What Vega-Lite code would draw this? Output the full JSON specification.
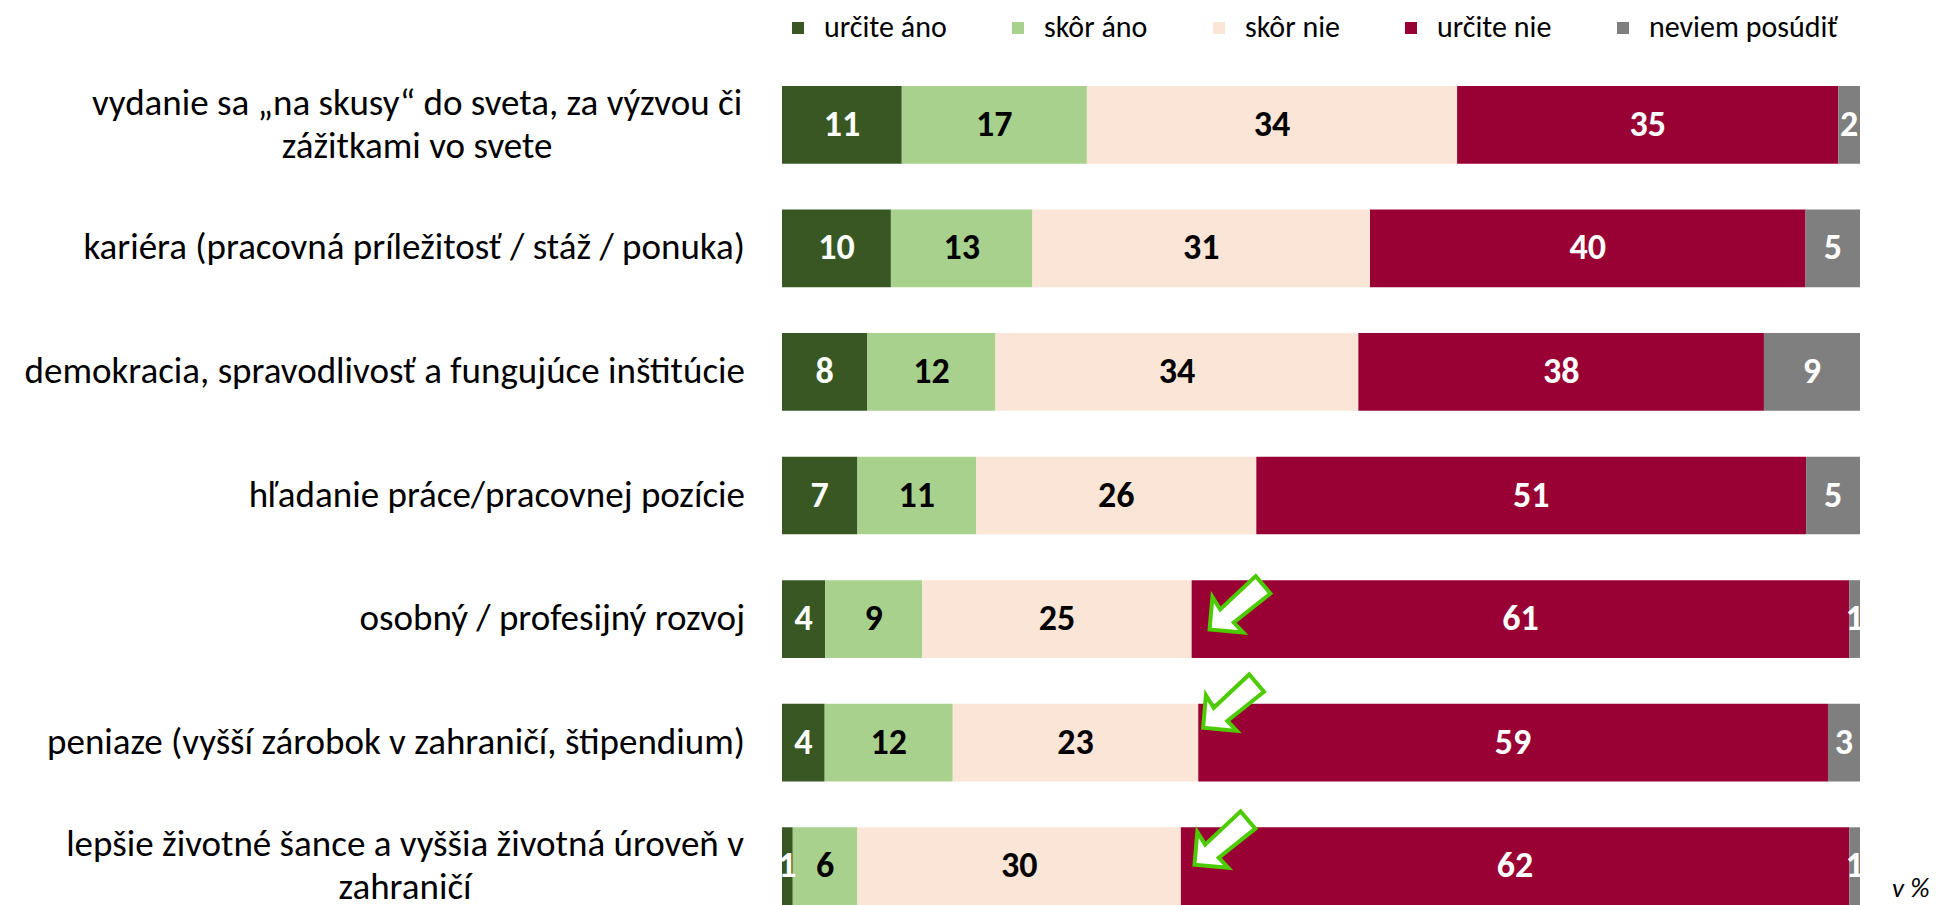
{
  "$schema": "https://vega.github.io/schema/vega-lite/v6.json",
  "width": 1078,
  "height": 819,
  "autosize": {"type": "none"},
  "padding": {"left": 782, "top": 86, "right": 76, "bottom": 0},
  "background": "white",
  "config": {"view": {"stroke": null}, "font": "Carlito, Calibri, Lato, sans-serif"},
  "datasets": {
    "main": [
      {"cat": "vydanie sa „na skusy“ do sveta, za výzvou či\nzážitkami vo svete", "resp": "určite áno", "v": 11},
      {"cat": "vydanie sa „na skusy“ do sveta, za výzvou či\nzážitkami vo svete", "resp": "skôr áno", "v": 17},
      {"cat": "vydanie sa „na skusy“ do sveta, za výzvou či\nzážitkami vo svete", "resp": "skôr nie", "v": 34},
      {"cat": "vydanie sa „na skusy“ do sveta, za výzvou či\nzážitkami vo svete", "resp": "určite nie", "v": 35},
      {"cat": "vydanie sa „na skusy“ do sveta, za výzvou či\nzážitkami vo svete", "resp": "neviem posúdiť", "v": 2},
      {"cat": "kariéra (pracovná príležitosť / stáž / ponuka)", "resp": "určite áno", "v": 10},
      {"cat": "kariéra (pracovná príležitosť / stáž / ponuka)", "resp": "skôr áno", "v": 13},
      {"cat": "kariéra (pracovná príležitosť / stáž / ponuka)", "resp": "skôr nie", "v": 31},
      {"cat": "kariéra (pracovná príležitosť / stáž / ponuka)", "resp": "určite nie", "v": 40},
      {"cat": "kariéra (pracovná príležitosť / stáž / ponuka)", "resp": "neviem posúdiť", "v": 5},
      {"cat": "demokracia, spravodlivosť a fungujúce inštitúcie", "resp": "určite áno", "v": 8},
      {"cat": "demokracia, spravodlivosť a fungujúce inštitúcie", "resp": "skôr áno", "v": 12},
      {"cat": "demokracia, spravodlivosť a fungujúce inštitúcie", "resp": "skôr nie", "v": 34},
      {"cat": "demokracia, spravodlivosť a fungujúce inštitúcie", "resp": "určite nie", "v": 38},
      {"cat": "demokracia, spravodlivosť a fungujúce inštitúcie", "resp": "neviem posúdiť", "v": 9},
      {"cat": "hľadanie práce/pracovnej pozície", "resp": "určite áno", "v": 7},
      {"cat": "hľadanie práce/pracovnej pozície", "resp": "skôr áno", "v": 11},
      {"cat": "hľadanie práce/pracovnej pozície", "resp": "skôr nie", "v": 26},
      {"cat": "hľadanie práce/pracovnej pozície", "resp": "určite nie", "v": 51},
      {"cat": "hľadanie práce/pracovnej pozície", "resp": "neviem posúdiť", "v": 5},
      {"cat": "osobný / profesijný rozvoj", "resp": "určite áno", "v": 4},
      {"cat": "osobný / profesijný rozvoj", "resp": "skôr áno", "v": 9},
      {"cat": "osobný / profesijný rozvoj", "resp": "skôr nie", "v": 25},
      {"cat": "osobný / profesijný rozvoj", "resp": "určite nie", "v": 61},
      {"cat": "osobný / profesijný rozvoj", "resp": "neviem posúdiť", "v": 1},
      {"cat": "peniaze (vyšší zárobok v zahraničí, štipendium)", "resp": "určite áno", "v": 4},
      {"cat": "peniaze (vyšší zárobok v zahraničí, štipendium)", "resp": "skôr áno", "v": 12},
      {"cat": "peniaze (vyšší zárobok v zahraničí, štipendium)", "resp": "skôr nie", "v": 23},
      {"cat": "peniaze (vyšší zárobok v zahraničí, štipendium)", "resp": "určite nie", "v": 59},
      {"cat": "peniaze (vyšší zárobok v zahraničí, štipendium)", "resp": "neviem posúdiť", "v": 3},
      {"cat": "lepšie životné šance a vyššia životná úroveň v\nzahraničí", "resp": "určite áno", "v": 1},
      {"cat": "lepšie životné šance a vyššia životná úroveň v\nzahraničí", "resp": "skôr áno", "v": 6},
      {"cat": "lepšie životné šance a vyššia životná úroveň v\nzahraničí", "resp": "skôr nie", "v": 30},
      {"cat": "lepšie životné šance a vyššia životná úroveň v\nzahraničí", "resp": "určite nie", "v": 62},
      {"cat": "lepšie životné šance a vyššia životná úroveň v\nzahraničí", "resp": "neviem posúdiť", "v": 1}
    ],
    "arrows": [
      {"cat": "osobný / profesijný rozvoj", "x": 0.395},
      {"cat": "peniaze (vyšší zárobok v zahraničí, štipendium)", "x": 0.389},
      {"cat": "lepšie životné šance a vyššia životná úroveň v\nzahraničí", "x": 0.381}
    ]
  },
  "data": {"name": "main"},
  "transform": [
    {"calculate": "indexof(['určite áno','skôr áno','skôr nie','určite nie','neviem posúdiť'], datum.resp)", "as": "o"},
    {"stack": "v", "groupby": ["cat"], "sort": [{"field": "o", "order": "ascending"}], "offset": "normalize", "as": ["s0", "s1"]},
    {"calculate": "(datum.s0 + datum.s1) / 2", "as": "mid"}
  ],
  "encoding": {
    "y": {"field": "cat", "type": "nominal", "sort": null, "axis": null,
          "scale": {"paddingInner": 0.371, "paddingOuter": 0}}
  },
  "layer": [
    {
      "mark": {"type": "bar"},
      "encoding": {
        "x": {"field": "s0", "type": "quantitative", "axis": null, "scale": {"domain": [0, 1], "nice": false, "zero": false}},
        "x2": {"field": "s1"},
        "color": {
          "field": "resp", "type": "nominal",
          "scale": {"domain": ["určite áno", "skôr áno", "skôr nie", "určite nie", "neviem posúdiť"],
                    "range": ["#385723", "#A9D18E", "#FBE5D6", "#990033", "#7F7F7F"]},
          "legend": {
            "title": null, "orient": "none", "direction": "horizontal",
            "legendX": 1, "legendY": -73,
            "symbolType": "square", "symbolSize": 144, "symbolStrokeWidth": 0,
            "labelFontSize": 30, "labelColor": "#000000", "labelOffset": 11,
            "columnPadding": 56, "labelLimit": 400
          }
        }
      }
    },
    {
      "mark": {"type": "text", "fontWeight": "bold", "fontSize": 36, "baseline": "middle", "align": "center"},
      "encoding": {
        "x": {"field": "mid", "type": "quantitative"},
        "text": {"field": "v", "type": "quantitative"},
        "color": {"condition": {"test": "datum.resp == 'skôr áno' || datum.resp == 'skôr nie'", "value": "#000000"}, "value": "#FFFFFF"}
      }
    },
    {
      "transform": [{"filter": "datum.resp == 'určite áno' && indexof(datum.cat, 'vydanie') != 0 && indexof(datum.cat, 'lepšie') != 0"}],
      "mark": {"type": "text", "fontSize": 37, "align": "right", "baseline": "middle", "dx": -37, "color": "#000000"},
      "encoding": {
        "x": {"datum": 0, "type": "quantitative"},
        "text": {"field": "cat", "type": "nominal"}
      }
    },
    {
      "transform": [{"filter": "datum.resp == 'určite áno' && indexof(datum.cat, 'vydanie') == 0"}],
      "mark": {"type": "text", "fontSize": 37, "align": "center", "baseline": "middle", "dx": -365, "dy": -21, "lineBreak": "\n", "lineHeight": 43, "color": "#000000"},
      "encoding": {
        "x": {"datum": 0, "type": "quantitative"},
        "text": {"field": "cat", "type": "nominal"}
      }
    },
    {
      "transform": [{"filter": "datum.resp == 'určite áno' && indexof(datum.cat, 'lepšie') == 0"}],
      "mark": {"type": "text", "fontSize": 37, "align": "center", "baseline": "middle", "dx": -377, "dy": -21, "lineBreak": "\n", "lineHeight": 43, "color": "#000000"},
      "encoding": {
        "x": {"datum": 0, "type": "quantitative"},
        "text": {"field": "cat", "type": "nominal"}
      }
    },
    {
      "data": {"name": "arrows"},
      "transform": [{"filter": "indexof(datum.cat, 'osobný') == 0"}],
      "mark": {"type": "point", "shape": "M0.18,1.04 L0.46,-2.22 L1.24,-0.96 L4.79,-4.29 L6.26,-2.56 L2.6,0.35 L3.54,1.35 Z", "size": 400, "filled": true, "fill": "#FFFFFF", "stroke": "#4CCC00", "strokeWidth": 4, "opacity": 1, "strokeJoin": "miter"},
      "encoding": {"x": {"field": "x", "type": "quantitative"}}
    },
    {
      "data": {"name": "arrows"},
      "transform": [{"filter": "indexof(datum.cat, 'peniaze') == 0"}],
      "mark": {"type": "point", "shape": "M0.18,-1.48 L0.46,-4.74 L1.24,-3.48 L4.79,-6.81 L6.26,-5.08 L2.6,-2.17 L3.54,-1.17 Z", "size": 400, "filled": true, "fill": "#FFFFFF", "stroke": "#4CCC00", "strokeWidth": 4, "opacity": 1, "strokeJoin": "miter"},
      "encoding": {"x": {"field": "x", "type": "quantitative"}}
    },
    {
      "data": {"name": "arrows"},
      "transform": [{"filter": "indexof(datum.cat, 'lepšie') == 0"}],
      "mark": {"type": "point", "shape": "M0.18,-0.15 L0.46,-3.41 L1.24,-2.15 L4.79,-5.48 L6.26,-3.75 L2.6,-0.84 L3.54,0.16 Z", "size": 400, "filled": true, "fill": "#FFFFFF", "stroke": "#4CCC00", "strokeWidth": 4, "opacity": 1, "strokeJoin": "miter"},
      "encoding": {"x": {"field": "x", "type": "quantitative"}}
    },
    {
      "data": {"name": "arrows"},
      "transform": [{"filter": "indexof(datum.cat, 'lepšie') == 0"}],
      "mark": {"type": "text", "fontSize": 27, "fontStyle": "italic", "align": "left", "baseline": "alphabetic", "dx": 32, "dy": 31, "color": "#000000"},
      "encoding": {
        "x": {"datum": 1, "type": "quantitative"},
        "text": {"value": "v %"}
      }
    }
  ]
}
